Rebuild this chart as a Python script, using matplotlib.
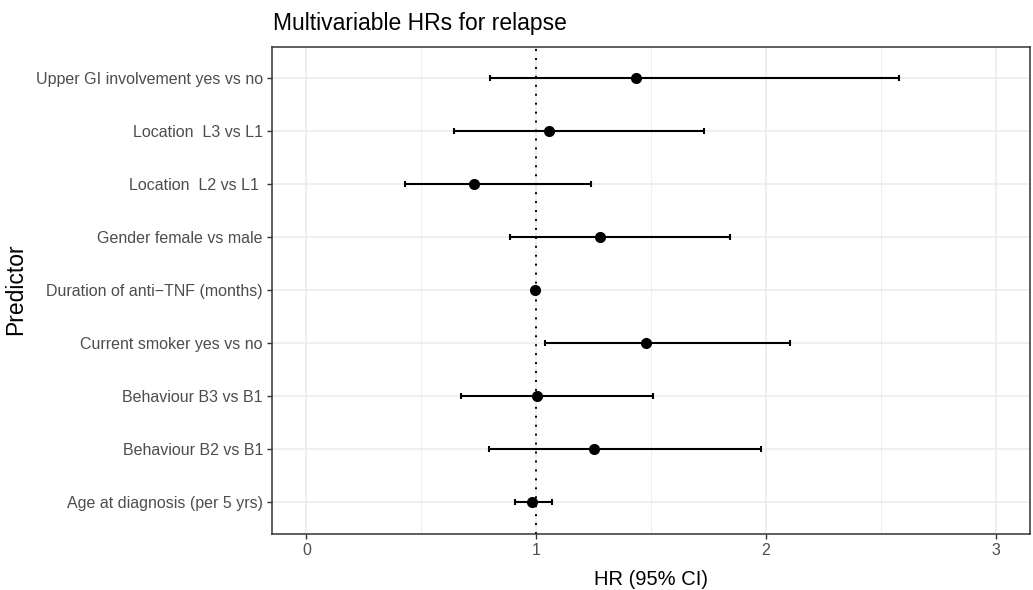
import matplotlib
matplotlib.use("Agg")
import matplotlib.pyplot as plt
from matplotlib.ticker import MultipleLocator

plt.rcParams['font.family'] = ['Liberation Sans', 'DejaVu Sans']

predictors = [
    "Age at diagnosis (per 5 yrs)",
    "Behaviour B2 vs B1",
    "Behaviour B3 vs B1",
    "Current smoker yes vs no",
    "Duration of anti\u2212TNF (months)",
    "Gender female vs male",
    "Location  L2 vs L1 ",
    "Location  L3 vs L1",
    "Upper GI involvement yes vs no",
]
hr = [0.984, 1.254, 1.003, 1.478, 0.994, 1.278, 0.729, 1.054, 1.433]
ci_low = [0.907, 0.796, 0.671, 1.039, 0.988, 0.887, 0.430, 0.642, 0.799]
ci_high = [1.067, 1.980, 1.507, 2.104, 1.000, 1.843, 1.239, 1.729, 2.580]
x_ticks = [0, 1, 2, 3]

W, H = 1033, 590
fig = plt.figure(figsize=(W / 100, H / 100), dpi=100)
left, right, bottom, top = 272, 1030, 534, 46.5
ax = fig.add_axes([left / W, 1 - bottom / H, (right - left) / W, (bottom - top) / H])

ypos = list(range(1, len(predictors) + 1))

# grid
ax.set_axisbelow(True)
ax.xaxis.set_minor_locator(MultipleLocator(0.5))
ax.grid(which='major', color='#EBEBEB', linewidth=1.1)
ax.grid(which='minor', axis='x', color='#EBEBEB', linewidth=0.55)

# reference line at HR = 1
ax.axvline(1, color='black', linestyle=(0, (1.0, 3.6)), linewidth=1.4, zorder=2)

err_lo = [h - l for h, l in zip(hr, ci_low)]
err_hi = [u - h for h, u in zip(hr, ci_high)]
ax.errorbar(hr, ypos, xerr=[err_lo, err_hi], fmt='o', color='black',
            markersize=7, elinewidth=1.5, capsize=2.2, capthick=1.5, zorder=3)

ax.set_xlim(-0.15, 3.15)
ax.set_ylim(0.4, len(predictors) + 0.6)
ax.set_xticks(x_ticks)
ax.set_xticklabels([str(t) for t in x_ticks])
ax.set_yticks(ypos)
ax.set_yticklabels(predictors)

ax.tick_params(axis='both', which='major', length=3.5, width=1, color='#333333',
               labelcolor='#4D4D4D', labelsize=11.5, pad=3)
ax.tick_params(axis='x', which='minor', length=0)
for s in ax.spines.values():
    s.set_color('#333333')
    s.set_linewidth(1.1)

# axis titles and plot title
fig.text((left + right) / 2 / W, 1 - 585 / H, "HR (95% CI)", fontsize=14.5,
         ha='center', va='baseline', color='black')
fig.text(16 / W, 1 - 289 / H, "Predictor", fontsize=16.5, rotation=90,
         ha='center', va='center', color='black')
fig.text(273 / W, 1 - 30 / H, "Multivariable HRs for relapse", fontsize=16.5,
         ha='left', va='baseline', color='black')

fig.savefig("out.png", dpi=100)
